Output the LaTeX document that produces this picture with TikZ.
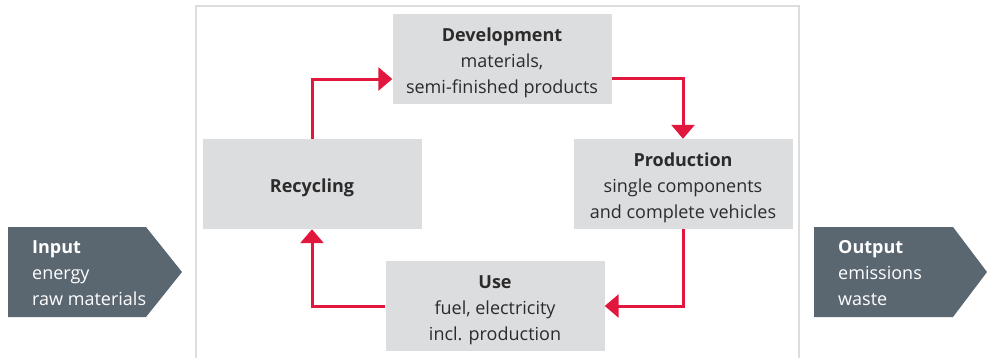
\documentclass[tikz,border=0pt]{standalone}
\usepackage{fontspec}
\setmainfont{Open Sans}
\usetikzlibrary{arrows.meta}
\definecolor{boxgray}{HTML}{DCDDDF}
\definecolor{slate}{HTML}{5B6770}
\definecolor{flowred}{HTML}{E2173D}
\definecolor{txt}{HTML}{2B2B2B}
\definecolor{frame}{HTML}{DDDDDD}
\newcommand{\tstrut}{\rule{0pt}{21.5pt}}
\tikzset{
  stagebox/.style={fill=boxgray, draw=none, minimum width=219pt, minimum height=90pt,
    inner sep=0pt, align=center, text=txt, font=\fontsize{18}{26}\selectfont},
  flow/.style={draw=flowred, line width=3pt, -{Triangle[width=23pt,length=14pt]}},
  iobox/.style={fill=slate, draw=none},
  iotext/.style={anchor=west, align=left, text=white, inner sep=0pt, font=\fontsize{18}{26}\selectfont}
}
\begin{document}
\begin{tikzpicture}[x=1pt,y=-1pt]
\useasboundingbox (0,0) rectangle (987,357);
\draw[frame, line width=2pt] (196,362) -- (196,6) -- (799,6) -- (799,362);
\node[stagebox] (dev) at (502,59) {\tstrut\textbf{Development}\\materials,\\semi-finished products};
\node[stagebox] (prod) at (683,184) {\tstrut\textbf{Production}\\single components\\and complete vehicles};
\node[stagebox] (rec) at (312,184) {\tstrut\textbf{Recycling}};
\node[stagebox] (use) at (495,306) {\tstrut\textbf{Use}\\fuel, electricity\\incl. production};
\draw[flow] (rec.north) |- ([yshift=-20pt]dev.west);
\draw[flow] ([yshift=-19pt]dev.east) -| (prod.north);
\draw[flow] (prod.south) |- (use.east);
\draw[flow] (use.west) -| (rec.south);
\path[iobox] (8,227) -- (146,227) -- (182,272) -- (146,317) -- (8,317) -- cycle;
\node[iotext] (in) at (32,273) {\textbf{Input}\\energy\\raw materials};
\path[iobox] (814,227) -- (953,227) -- (987,272) -- (953,317) -- (814,317) -- cycle;
\node[iotext] (out) at (838,273) {\textbf{Output}\\emissions\\waste};
\end{tikzpicture}
\end{document}
